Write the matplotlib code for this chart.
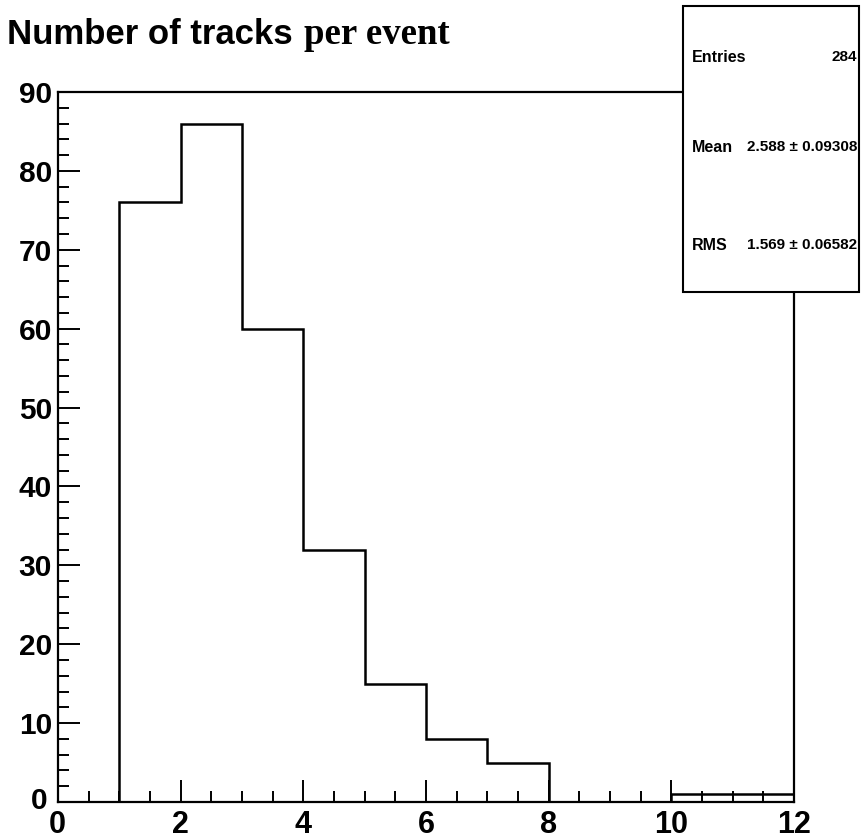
#!/usr/bin/env python3
"""Track multiplicity histogram with a ROOT-style stats box."""

import matplotlib
import numpy as np

matplotlib.use("Agg")
import matplotlib.pyplot as plt
from matplotlib.patches import Rectangle
from matplotlib.ticker import MultipleLocator
from matplotlib.transforms import offset_copy


FIGURE_PATH = "out.png"

# bin edges (number of tracks) and counts per bin
BIN_EDGES = np.arange(0, 13, 1)
COUNTS = [0, 76, 86, 60, 32, 15, 8, 5, 0, 0, 1, 1]

STAT_MEAN = "2.588 \u00b1 0.09308"
STAT_RMS = "1.569 \u00b1 0.06582"

X_TICKS = [0, 2, 4, 6, 8, 10, 12]
Y_TICKS = [0, 10, 20, 30, 40, 50, 60, 70, 80, 90]

W, H = 861, 840
SANS = ["Liberation Sans", "DejaVu Sans"]
SERIF = ["Liberation Serif", "DejaVu Serif"]


def px(x, y):
    """Pixel position (from top-left) to figure fraction."""
    return x / W, 1 - y / H


def plot_histogram():
    fig = plt.figure(figsize=(W / 100, H / 100), dpi=100)
    left, top, right, bottom = 58, 92, 794, 802
    ax = fig.add_axes([left / W, 1 - bottom / H, (right - left) / W, (bottom - top) / H])

    ax.stairs(COUNTS, BIN_EDGES, baseline=0, color="black", linewidth=1.8)

    ax.set_xlim(BIN_EDGES[0], BIN_EDGES[-1])
    ax.set_ylim(0, 90)
    ax.set_xticks(X_TICKS)
    ax.set_yticks(Y_TICKS)
    ax.xaxis.set_minor_locator(MultipleLocator(0.5))
    ax.yaxis.set_minor_locator(MultipleLocator(2))
    ax.tick_params(which="both", direction="in", width=1.4, colors="black",
                   top=False, right=False, labelbottom=False, labelleft=False)
    ax.tick_params(which="major", length=16)
    ax.tick_params(which="minor", length=8)
    for spine in ax.spines.values():
        spine.set_linewidth(1.6)

    # axis numbers, placed ROOT-like relative to the ticks
    for v in Y_TICKS:
        # the zero sits a little further out so it clears the x-axis zero
        dx, dy = (-10, 1) if v == 0 else (-6, -3)
        tr = offset_copy(ax.transData, fig=fig, x=dx, y=dy, units="dots")
        ax.text(0, v, str(v), transform=tr, ha="right", va="center",
                family=SANS, fontweight="bold", fontsize=21.5)
    for v in X_TICKS:
        tr = offset_copy(ax.transData, fig=fig, x=-1 if v == 0 else 0, y=-8, units="dots")
        ax.text(v, 0, str(v), transform=tr, ha="center", va="top",
                family=SANS, fontweight="bold", fontsize=22)

    # title: sans part followed by serif part
    fig.text(*px(7, 44), "Number of tracks", family=SANS, fontweight="bold",
             fontsize=25, ha="left", va="baseline")
    fig.text(*px(304, 44), "per event", family=SERIF, fontweight="bold",
             fontsize=26.5, ha="left", va="baseline")

    # stats box
    x0, y0 = px(683, 292)
    x1, y1 = px(859, 6)
    fig.add_artist(Rectangle((x0, y0), x1 - x0, y1 - y0, transform=fig.transFigure,
                             facecolor="white", edgecolor="black", linewidth=1.5,
                             zorder=10))
    entries = int(sum(COUNTS))
    rows = [("Entries", f"{entries}", 57), ("Mean", STAT_MEAN, 147), ("RMS", STAT_RMS, 245)]
    for name, value, y in rows:
        fig.text(*px(692, y), name, family=SANS, fontweight="bold", fontsize=11.5,
                 ha="left", va="center", zorder=11)
        fig.text(*px(857, y), value, family=SANS, fontsize=11, fontweight="bold",
                 ha="right", va="center", zorder=11)

    fig.savefig(FIGURE_PATH, dpi=100)
    plt.close(fig)


def main():
    plot_histogram()


if __name__ == "__main__":
    main()
